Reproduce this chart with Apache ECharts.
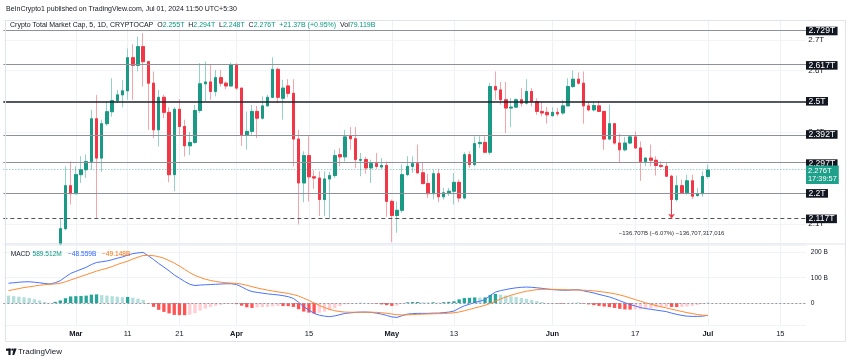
<!DOCTYPE html>
<html><head><meta charset="utf-8">
<script src="https://cdn.jsdelivr.net/npm/echarts@6/dist/echarts.min.js"></script>
<style>html,body{margin:0;padding:0;background:#fff}#c{width:850px;height:363px}</style>
</head><body><div id="c"></div>
<script>
// ---------------- DATA ----------------
const axisStart = '2024-02-16', axisEnd = '2024-07-20';
const candleStart = '2024-02-27';
const open = [2.035,2.085,2.225,2.199,2.261,2.277,2.304,2.443,2.315,2.427,
2.466,2.502,2.521,2.534,2.642,2.617,2.678,2.629,2.559,2.407,
2.513,2.464,2.261,2.474,2.418,2.355,2.366,2.470,2.557,2.563,
2.532,2.577,2.559,2.550,2.618,2.543,2.391,2.402,2.467,2.445,
2.485,2.513,2.604,2.510,2.550,2.526,2.377,2.234,2.323,2.254,
2.250,2.180,2.247,2.258,2.326,2.319,2.388,2.378,2.308,2.310,
2.283,2.297,2.286,2.291,2.174,2.128,2.145,2.261,2.288,2.297,
2.267,2.232,2.199,2.264,2.189,2.202,2.207,2.236,2.185,2.326,
2.294,2.362,2.366,2.334,2.548,2.537,2.505,2.478,2.481,2.505,
2.494,2.532,2.499,2.467,2.464,2.453,2.464,2.462,2.485,2.548,
2.572,2.559,2.485,2.472,2.485,2.467,2.377,2.427,2.364,2.342,
2.364,2.384,2.348,2.304,2.315,2.308,2.291,2.288,2.256,2.180,
2.225,2.202,2.241,2.193,2.199,2.255];
const close = [2.085,2.225,2.199,2.261,2.277,2.304,2.443,2.315,2.427,2.466,
2.502,2.521,2.534,2.642,2.617,2.678,2.629,2.559,2.407,2.513,
2.464,2.261,2.474,2.418,2.355,2.366,2.470,2.557,2.563,2.532,
2.577,2.559,2.550,2.618,2.543,2.391,2.402,2.467,2.445,2.485,
2.513,2.604,2.513,2.543,2.526,2.377,2.234,2.323,2.254,2.250,
2.180,2.247,2.258,2.323,2.319,2.384,2.378,2.310,2.310,2.283,
2.297,2.288,2.291,2.174,2.128,2.145,2.261,2.288,2.297,2.267,
2.232,2.199,2.264,2.189,2.202,2.207,2.236,2.185,2.326,2.294,
2.362,2.366,2.334,2.548,2.537,2.505,2.478,2.481,2.505,2.494,
2.532,2.499,2.467,2.462,2.456,2.464,2.459,2.485,2.548,2.572,
2.559,2.485,2.472,2.486,2.467,2.377,2.427,2.364,2.342,2.364,
2.384,2.348,2.304,2.315,2.308,2.291,2.288,2.256,2.180,2.225,
2.202,2.241,2.191,2.199,2.255,2.276];
const low = [2.030,2.080,2.164,2.197,2.234,2.250,2.277,2.120,2.270,2.420,
2.450,2.494,2.480,2.505,2.505,2.597,2.548,2.407,2.380,2.353,
2.445,2.236,2.207,2.391,2.320,2.325,2.362,2.462,2.500,2.505,
2.516,2.548,2.540,2.548,2.537,2.355,2.343,2.391,2.380,2.440,
2.483,2.510,2.494,2.440,2.513,2.288,2.099,2.171,2.174,2.215,
2.126,2.126,2.117,2.250,2.288,2.304,2.342,2.283,2.256,2.264,
2.234,2.280,2.280,2.124,2.041,2.072,2.137,2.256,2.267,2.264,
2.229,2.185,2.180,2.171,2.180,2.191,2.164,2.171,2.180,2.283,
2.288,2.348,2.332,2.326,2.505,2.489,2.397,2.416,2.478,2.483,
2.489,2.483,2.456,2.451,2.427,2.451,2.451,2.456,2.485,2.543,
2.554,2.427,2.467,2.467,2.465,2.342,2.377,2.359,2.299,2.337,
2.362,2.345,2.241,2.288,2.288,2.258,2.283,2.254,2.117,2.174,
2.199,2.196,2.182,2.189,2.189,2.248];
const high = [2.117,2.288,2.304,2.288,2.321,2.327,2.472,2.521,2.440,2.500,
2.575,2.537,2.570,2.672,2.686,2.711,2.722,2.632,2.597,2.537,
2.521,2.480,2.481,2.507,2.440,2.400,2.488,2.624,2.630,2.618,
2.602,2.602,2.565,2.626,2.624,2.537,2.467,2.488,2.485,2.516,
2.521,2.643,2.610,2.570,2.572,2.572,2.407,2.337,2.386,2.275,
2.272,2.272,2.270,2.342,2.348,2.407,2.416,2.416,2.332,2.319,
2.310,2.332,2.315,2.304,2.180,2.174,2.294,2.321,2.321,2.359,
2.299,2.264,2.277,2.280,2.218,2.218,2.267,2.245,2.334,2.337,
2.386,2.386,2.386,2.559,2.597,2.563,2.563,2.510,2.510,2.543,
2.572,2.543,2.510,2.499,2.481,2.481,2.478,2.505,2.575,2.600,
2.594,2.597,2.499,2.499,2.502,2.467,2.489,2.427,2.394,2.384,
2.391,2.402,2.369,2.318,2.359,2.321,2.304,2.301,2.261,2.258,
2.245,2.261,2.261,2.218,2.272,2.294];

const macdStart = '2024-02-17';
const macdLine = [78,80,82,83.5,84,82,80,77,75,80,
88,103,117,125,133,141,152,160,163,166,
171,177,182,189,195,198,200,186,172,156,
142,127,111,98,85,74,69,71,72,73,
74,75,76,76,73,64,53,45,42,39,
36,34,32,29,25,18,3,-15,-28,-41,
-48,-52,-54,-51,-46,-41,-39,-37,-36,-36,
-37,-40,-44,-49,-55,-57,-50,-44,-42,-41,
-41,-41,-40,-40,-38,-36,-32,-21,-11,-5,
2,7,13,30,43,49,53,57,60,62,
63,62,60,58,55,53,51.5,50.5,50.5,52,
52.3,48,44,39.5,34,29,24,17,9,1,
-6,-12,-18,-22,-25,-28,-31,-34,-40,-45,
-49,-52,-53,-53,-52,-48.559];
const signalLine = [49,53,57,61,64,67,70,72.5,74,75.5,
78,84,91,98,105,112,119,126,132,137,
144,152,159,165,174,181,188,188,187,183,
177,168,158,146,133,120,109,101,94,89,
85,82,80,79,77.5,74.5,70,64.5,59.5,55,
51,47.5,44,41,37.5,33.5,27.5,19,10,0,
-9.5,-18,-25,-30.5,-34,-36,-36.5,-36.5,-36.5,-36.3,
-36.5,-37,-38.5,-40.5,-43.5,-46.5,-47.3,-46.7,-45.8,-44.8,
-44,-43.3,-42.7,-42,-41.3,-40.3,-38.8,-35.5,-30.5,-25.5,
-20,-14.5,-9,-1.5,7.5,16,23.5,30.5,36.5,42,
46.5,50,52.5,54,54.5,54,53.5,53,52,51.5,
51.3,50.5,49.5,48,45.5,43,40,36.5,32,26.5,
20,13.5,7,1,-4.5,-10,-15,-19.5,-24.5,-29,
-33.5,-38,-42,-45.5,-48,-49.148];
const histogram = [29,27,25,22.5,20,15,10,4.5,1,4.5,
10,19,26,27,28,29,33,34,31,29,
27,25,23,24,21,17,12,-2,-15,-27,
-35,-41,-47,-48,-48,-46,-40,-30,-22,-16,
-11,-7,-4,-3,-4.5,-10.5,-17,-19.5,-17.5,-16,
-15,-13.5,-12,-12,-12.5,-15.5,-24.5,-34,-38,-41,
-38.5,-34,-29,-20.5,-12,-5,-2.5,-0.5,0.5,0.3,
-0.5,-3,-5.5,-8.5,-11.5,-10.5,-2.7,2.7,3.8,3.8,
3,2.3,2.7,2,3.3,4.3,6.8,14.5,19.5,20.5,
22,21.5,22,31.5,35.5,33,29.5,26.5,23.5,20,
16.5,12,7.5,4,0.5,-1,-2,-2.5,-1.5,0.5,
1,-2.5,-5.5,-8.5,-11.5,-14,-16,-19.5,-23,-25.5,
-26,-25.5,-25,-23,-20.5,-18,-16,-14.5,-15.5,-16,
-15.5,-14,-11,-7.5,-4,0.589];

const priceLevels = [2.729, 2.617, 2.5, 2.392, 2.297, 2.2];
const supportLevel = 2.117;
const lastPrice = 2.276;
const measureDate = '2024-06-24', measureFrom = 2.2537, measureTo = 2.117;
const measureText = '\u2212136.707B (\u22126.07%) \u2212136,707,317,016';
const xTickDates = ['2024-03-01','2024-03-11','2024-03-21','2024-04-01','2024-04-15','2024-05-01','2024-05-13','2024-06-01','2024-06-17','2024-07-01','2024-07-15'];
const xTickLabels = ['Mar','11','21','Apr','15','May','13','Jun','17','Jul','15'];
const headerText = 'BeInCrypto1 published on TradingView.com, Jul 01, 2024 11:50 UTC+5:30';
const symbolText = 'Crypto Total Market Cap, 5, 1D, CRYPTOCAP';
const ohlcKeys = ['O','H','L','C'];
const ohlcVals = ['2.255T','2.294T','2.248T','2.276T'];
const changeText = '+21.37B (+0.95%)';
const volText = '79.119B';
const macdLegendVals = ['589.512M','\u221248.559B','\u221249.148B'];
const lastPriceText = '2.276T', countdownText = '17:39:57';

// ---------------- BUILD ----------------
const DAY = 86400000;
function parseD(d){const p=d.split('-').map(Number);return Date.UTC(p[0],p[1]-1,p[2]);}
function fmtD(t){return new Date(t).toISOString().slice(0,10);}
const categories = [];
for (let t=parseD(axisStart); t<=parseD(axisEnd); t+=DAY) categories.push(fmtD(t));
const cOff = categories.indexOf(candleStart);
const mOff = categories.indexOf(macdStart);
const tickSet = new Set(xTickDates);
const tickMap = {}; xTickDates.forEach((d,i)=>tickMap[d]=xTickLabels[i]);
const isTick = (i, v) => tickSet.has(categories[i]);

const UP='#1a9a84', DOWN='#f23645', UPW='#93d3c7', DOWNW='#f7a3aa', TEAL='#089981';
const wickData = open.map((o,i)=>[cOff+i, o, close[i], low[i], high[i]]);
const bodyData = open.map((o,i)=>[cOff+i, o, close[i], Math.min(o,close[i]), Math.max(o,close[i])]);
const histData = histogram.map((v,i)=>{
  const prev = i>0 ? histogram[i-1] : (v>=0 ? Infinity : -Infinity);
  let c;
  if (v>=0) c = v>=prev ? '#26a69a' : '#b2dfdb'; else c = v<=prev ? '#ff5252' : '#ffcdd2';
  return {value:[mOff+i, v], itemStyle:{color:c}};
});
const macdData = macdLine.map((v,i)=>[mOff+i, v]);
const sigData = signalLine.map((v,i)=>[mOff+i, v]);

const FONT = '"Liberation Sans", Arial, sans-serif';
const GRID_LEFT = 3.32, DAY_PX = 5.18;
const gridW = DAY_PX*(categories.length-1);
const mIdx = categories.indexOf(measureDate);

const levelLines = priceLevels.map(v=>({yAxis:v, lineStyle:{color: v===2.5?'#1e222d':'#8e9199', width: v===2.5?1.5:1.1, type:'solid'}}));
levelLines.push({yAxis:supportLevel, lineStyle:{color:'#50535e', width:1, type:[4,3]}});
levelLines.push({yAxis:lastPrice, lineStyle:{color:'#26a69a', width:1, type:[1,2], opacity:0.7}});
levelLines.push([{coord:[mIdx, measureFrom], symbol:'none'},{coord:[mIdx, measureTo], symbol:'arrow', symbolSize:5, lineStyle:{color:'#f23645', width:1, type:'solid'}}]);

const txt = (id, x, y, style) => ({type:'text', id, x, y, z:100, style: Object.assign({fontFamily:FONT, verticalAlign:'middle', align:'left'}, style)});
const LF = 7;
const kv = {k:{fill:'#131722', fontSize:LF, fontFamily:FONT}, v:{fill:TEAL, fontSize:LF, fontFamily:FONT}, s:{fill:'#131722', fontSize:LF, fontFamily:FONT}};
const legendLine = '{s|' + symbolText + '  }' +
  ohlcKeys.map((k,i)=>'{k|'+k+'}{v|'+ohlcVals[i]+'  }').join('') +
  '{v|' + changeText + '  }{k|Vol}{v|' + volText + '}';
const staticGraphics = [
  {type:'rect', id:'frame', z:90, shape:{x:5.5, y:20.5, width:840, height:321}, style:{fill:'none', stroke:'#e0e3eb', lineWidth:1}},
  {type:'line', id:'sep', z:90, shape:{x1:5.5, y1:244, x2:845.5, y2:244}, style:{stroke:'#e0e3eb', lineWidth:1}},
  txt('hdr', 6, 9, {text:headerText, fill:'#131722', fontSize:7}),
  txt('legend', 10, 25, {text:legendLine, rich:kv}),
  txt('ml0', 10.7, 254, {text:'MACD', fill:'#131722', fontSize:6.6}),
  txt('ml1', 32.5, 254, {text:macdLegendVals[0], fill:TEAL, fontSize:6.6}),
  txt('ml2', 68, 254, {text:macdLegendVals[1], fill:'#2962ff', fontSize:6.6}),
  txt('ml3', 102, 254, {text:macdLegendVals[2], fill:'#ff6d00', fontSize:6.6}),
  {type:'rect', id:'lg1', z:100, shape:{x:6, y:348.6, width:4.6, height:2.2}, style:{fill:'#131722'}},
  {type:'rect', id:'lg2', z:100, shape:{x:8.4, y:348.6, width:2.2, height:6.4}, style:{fill:'#131722'}},
  {type:'circle', id:'lg3', z:100, shape:{cx:12.4, cy:349.7, r:1.15}, style:{fill:'#131722'}},
  {type:'polygon', id:'lg4', z:100, shape:{points:[[13.6,348.6],[16.6,348.6],[14.2,355],[12.4,355]]}, style:{fill:'#131722'}},
  txt('tv', 18, 352, {text:'TradingView', fill:'#131722', fontSize:8})
];

const chart = echarts.init(document.getElementById('c'));
chart.setOption({
  animation:false,
  backgroundColor:'#ffffff',
  textStyle:{fontFamily:FONT},
  grid:[
    {left:GRID_LEFT, top:20, width:gridW, height:223, containLabel:false, outerBoundsMode:'none'},
    {left:GRID_LEFT, top:245, width:gridW, height:80, containLabel:false, outerBoundsMode:'none'}
  ],
  xAxis:[
    {type:'category', gridIndex:0, data:categories, boundaryGap:false,
     axisLine:{show:false}, axisTick:{show:false}, axisLabel:{show:false},
     splitLine:{show:true, interval:isTick, lineStyle:{color:'#eef1f6', width:1}}},
    {type:'category', gridIndex:1, data:categories, boundaryGap:false,
     axisLine:{show:false}, axisTick:{show:false},
     axisLabel:{show:true, interval:isTick, margin:5, fontSize:7.5, color:'#131722',
       formatter:(v)=>{const t=tickMap[v]; if(!t) return ''; return /^[A-Z]/.test(t)?'{m|'+t+'}':'{d|'+t+'}';},
       rich:{m:{fontWeight:'bold', fontSize:7.5, color:'#131722', fontFamily:FONT}, d:{fontSize:7.5, color:'#131722', fontFamily:FONT}}},
     splitLine:{show:true, interval:isTick, lineStyle:{color:'#eef1f6', width:1}}}
  ],
  yAxis:[
    {type:'value', gridIndex:0, position:'right', min:2.0384, max:2.7648, splitNumber:7, scale:true,
     axisLine:{show:false}, axisTick:{show:false},
     axisLabel:{margin:2, fontSize:8, color:'#131722', showMinLabel:false, showMaxLabel:false,
       formatter:(v)=>v.toFixed(1)+'T'},
     splitLine:{show:true, lineStyle:{color:'#f2f4f8', width:1}}},
    {type:'value', gridIndex:1, position:'right', min:-86.96, max:229.2, splitNumber:3,
     axisLine:{show:false}, axisTick:{show:false},
     axisLabel:{margin:4.5, fontSize:6.6, color:'#131722', showMinLabel:false, showMaxLabel:false,
       formatter:(v)=>Math.abs(v)<1e-6?'0':Math.round(v)+' B'},
     splitLine:{show:true, lineStyle:{color:'#f0f3fa', width:1}}}
  ],
  series:[
    {type:'candlestick', name:'wicks', xAxisIndex:0, yAxisIndex:0, data:wickData, encode:{x:0, y:[1,2,3,4]},
     barWidth:3, silent:true, clip:true,
     itemStyle:{color:UPW, color0:DOWNW, borderColor:UPW, borderColor0:DOWNW, borderColorDoji:UPW, borderWidth:1}},
    {type:'candlestick', name:'bodies', xAxisIndex:0, yAxisIndex:0, data:bodyData, encode:{x:0, y:[1,2,3,4]},
     barWidth:3, silent:true, clip:true,
     itemStyle:{color:UP, color0:DOWN, borderColor:UP, borderColor0:DOWN, borderColorDoji:UP, borderWidth:1},
     markLine:{silent:true, symbol:['none','none'], label:{show:false}, animation:false, data:levelLines}},
    {type:'bar', name:'hist', xAxisIndex:1, yAxisIndex:1, data:histData, barWidth:3.3, silent:true,
     markLine:{silent:true, symbol:['none','none'], label:{show:false}, animation:false,
       data:[{yAxis:0}], lineStyle:{color:'#9598a1', type:[2,2], width:1}}},
    {type:'line', name:'macd', xAxisIndex:1, yAxisIndex:1, data:macdData, showSymbol:false, symbol:'none', silent:true,
     lineStyle:{color:'#4a72ff', width:1}},
    {type:'line', name:'signal', xAxisIndex:1, yAxisIndex:1, data:sigData, showSymbol:false, symbol:'none', silent:true,
     lineStyle:{color:'#ff8a33', width:1}}
  ],
  graphic:{elements:staticGraphics}
});

// axis-dependent labels (price boxes, annotation) positioned via the library's scales
const yPix = v => chart.convertToPixel({yAxisIndex:0}, v);
const dyn = [];
priceLevels.concat([supportLevel]).forEach((v,i)=>{
  dyn.push(txt('box'+i, 806, yPix(v), {text:String(v)+'T', fill:'#ffffff', backgroundColor:'#131722',
    padding:[1,2.4,0,2.4], fontSize:8.6, lineHeight:7.6}));
});
dyn.push(txt('last', 806, yPix(lastPrice)-4.5, {text:'{a|'+lastPriceText+'}\n{b|'+countdownText+'}', verticalAlign:'top',
  backgroundColor:'#1fa08a', padding:[1,2,1,2],
  rich:{a:{fill:'#fff', fontSize:7.6, lineHeight:8, fontFamily:FONT}, b:{fill:'#fff', fontSize:7.4, lineHeight:8.5, fontFamily:FONT}}}));
const mp = chart.convertToPixel({gridIndex:0}, [mIdx, measureTo]);
dyn.push(txt('measure', mp[0], mp[1]+14, {text:measureText, fill:'#2a2e39', fontSize:6, align:'center'}));
chart.setOption({graphic:{elements:dyn}});
</script></body></html>
